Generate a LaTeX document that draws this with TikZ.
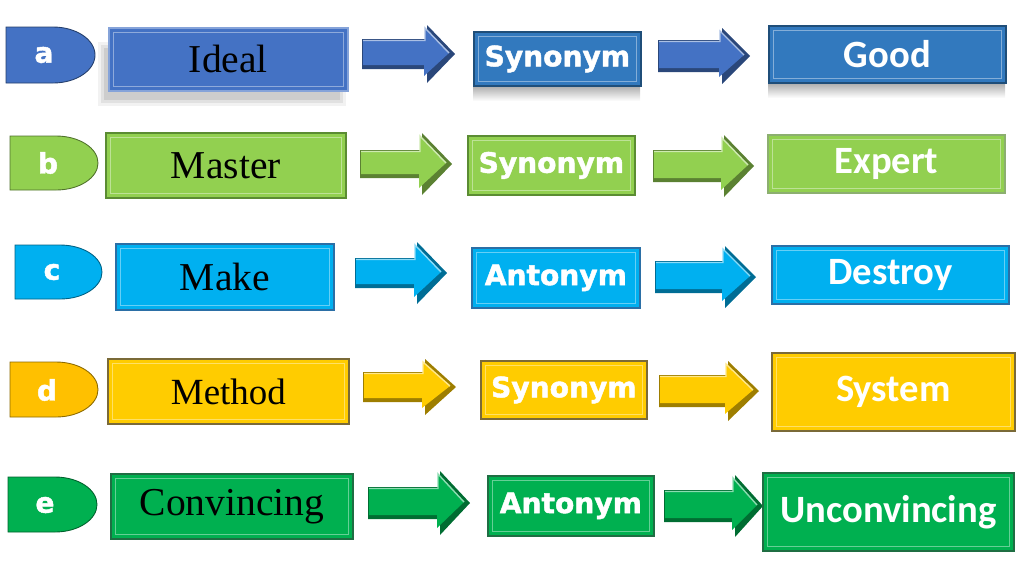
\documentclass[tikz,border=0pt]{standalone}
\usepackage{fontspec}
\setmainfont{Liberation Serif}
\newfontfamily\heavysans{DejaVu Sans}[BoldFeatures={FakeBold=1.6}]
\newfontfamily\calibrifont{Carlito}

% bevelled block arrow: colour, start, head start, tip, centre, shaft half, head half
\newcommand{\wordarrow}[7]{%
  \fill[#1!62!black] (#2,{#5-#6}) -- (#3,{#5-#6}) -- (#3,{#5-#7}) -- (#4,#5)
    -- (#3,{#5+#7}) -- (#3,{#5+#6}) -- (#2,{#5+#6}) -- cycle;
  \fill[#1] (#2+1,{#5-#6+1}) -- (#3-2,{#5-#6+1}) -- (#3-2,{#5-#7+3}) -- (#4-6,{#5-1})
    -- (#3-3,{#5+#7-7}) -- (#3-3,{#5+#6-4}) -- (#2+1,{#5+#6-4}) -- cycle;
  \draw[#1!45!white, line width=0.8pt] (#2+1,{#5-#6+1.5}) -- (#3-2,{#5-#6+1.5})
    -- (#3-2,{#5-#7+3}) -- (#4-6,{#5-1});
}

\tikzset{
  tabshape/.style={fill=#1, draw=#1!55!black, line width=0.5pt},
  tabletter/.style={text=white, font=\heavysans\bfseries\fontsize{16}{16}\selectfont},
  wordbox/.style 2 args={fill=#1, draw=#2, line width=1pt, anchor=north west, inner sep=0pt,
    path picture={\draw[white, opacity=.4, line width=.8pt]
      ([shift={(2.5pt,-2.5pt)}]path picture bounding box.north west) rectangle
      ([shift={(-2.5pt,2.5pt)}]path picture bounding box.south east);}},
  boxsize/.style 2 args={minimum width=#1*0.02cm, minimum height=#2*0.02cm},
  serifword/.style={text=black, font=\fontsize{22.5}{22.5}\selectfont},
  kindword/.style={text=white, font=\heavysans\bfseries\fontsize{16}{16}\selectfont},
  resultword/.style={text=white, font=\calibrifont\bfseries\fontsize{22}{22}\selectfont},
}

\begin{document}
\begin{tikzpicture}[x=0.02cm, y=-0.02cm]

  % Colours
  \definecolor{ablue}{HTML}{4472C4}
  \definecolor{asteel}{HTML}{3279BE}
  \definecolor{asteeledge}{HTML}{1F4E79}
  \definecolor{bgreen}{HTML}{92D050}
  \definecolor{bgreenedge}{HTML}{5B8C33}
  \definecolor{ccyan}{HTML}{00B0F0}
  \definecolor{ccyanedge}{HTML}{2B6FA6}
  \definecolor{dgold}{HTML}{FFC000}
  \definecolor{dyellow}{HTML}{FFCC00}
  \definecolor{dgoldedge}{HTML}{7A6A38}
  \definecolor{egreen}{HTML}{00B050}
  \definecolor{egreenedge}{HTML}{1F6E43}

  \useasboundingbox (0,0) rectangle (1024,576);

  % 1. Row a: Ideal -> Synonym -> Good
  \draw[tabshape=ablue] (6,27) -- (53,27) arc[start angle=-90, end angle=90, x radius=42, y radius=28] -- (6,83) -- cycle;
  \node[tabletter] (taba) at (44,55) {a};
  \foreach \s/\o in {0/.05, 3/.07, 6/.09}
    \fill[black, opacity=\o] ({98+\s},{42+\s}) rectangle ({346-\s},{106-\s});
  \node[wordbox={ablue}{ablue!65!white}, boxsize={239}{63}, serifword] (ideal) at (108,27) {Ideal};
  \wordarrow{ablue}{362}{427}{455}{54}{15}{29}
  \shade[top color=black!30, bottom color=white] (473,87) rectangle (640,101);
  \node[wordbox={asteel}{asteeledge}, boxsize={167}{54}, kindword] (syna) at (473,31) {Synonym};
  \wordarrow{ablue}{658}{722}{750}{56}{16}{28}
  \shade[top color=black!30, bottom color=white] (768,84) rectangle (1005,98);
  \node[wordbox={asteel}{asteeledge}, boxsize={237}{57}, resultword] (good) at (768,25) {Good};

  % 2. Row b: Master -> Synonym -> Expert
  \draw[tabshape=bgreen] (10,136) -- (56,136) arc[start angle=-90, end angle=90, x radius=42, y radius=27] -- (10,190) -- cycle;
  \node[tabletter] (tabb) at (48,163) {b};
  \node[wordbox={bgreen}{bgreenedge}, boxsize={240}{65}, serifword] (master) at (105,132) {Master};
  \wordarrow{bgreen}{360}{422}{452}{164}{14}{31}
  \node[wordbox={bgreen}{bgreenedge}, boxsize={167}{59}, kindword] (synb) at (467,135) {Synonym};
  \wordarrow{bgreen}{653}{724}{754}{166}{16}{31}
  \node[wordbox={bgreen}{bgreenedge!70!white}, boxsize={237}{58}, resultword] (expert) at (767,134) {Expert};

  % 3. Row c: Make -> Antonym -> Destroy
  \draw[tabshape=ccyan] (15,245) -- (60,245) arc[start angle=-90, end angle=90, x radius=42, y radius=27] -- (15,299) -- cycle;
  \node[tabletter] (tabc) at (52,272) {c};
  \node[wordbox={ccyan}{ccyanedge}, boxsize={218}{66}, serifword] (make) at (115,243) {Make};
  \wordarrow{ccyan}{355}{417}{447}{273}{15}{31}
  \node[wordbox={ccyan}{ccyanedge}, boxsize={168}{60}, kindword] (antc) at (471,247) {Antonym};
  \wordarrow{ccyan}{655}{725}{756}{277}{16}{31}
  \node[wordbox={ccyan}{ccyanedge}, boxsize={237}{58}, resultword] (destroy) at (771,245) {Destroy};

  % 4. Row d: Method -> Synonym -> System
  \draw[tabshape=dgold] (10,362) -- (56,362) arc[start angle=-90, end angle=90, x radius=42, y radius=27.5] -- (10,417) -- cycle;
  \node[tabletter] (tabd) at (47,390) {d};
  \node[wordbox={dyellow}{dgoldedge}, boxsize={241}{65}, serifword, font=\fontsize{21}{21}\selectfont] (method) at (107,358) {Method};
  \wordarrow{dyellow}{363}{425}{456}{387}{15}{28}
  \node[wordbox={dyellow}{dgoldedge}, boxsize={166}{58}, kindword] (synd) at (480,360) {Synonym};
  \wordarrow{dyellow}{659}{728}{759}{391}{16}{30}
  \node[wordbox={dyellow}{dgoldedge}, boxsize={243}{78}, resultword] (system) at (771,352) {System};

  % 5. Row e: Convincing -> Antonym -> Unconvincing
  \draw[tabshape=egreen] (8,477) -- (55,477) arc[start angle=-90, end angle=90, x radius=42, y radius=27.5] -- (8,532) -- cycle;
  \node[tabletter] (tabe) at (45,505) {e};
  \node[wordbox={egreen}{egreenedge}, boxsize={242}{65}, serifword] (convincing) at (110,473) {Convincing};
  \wordarrow{egreen}{368}{440}{470}{503}{16}{32}
  \node[wordbox={egreen}{egreenedge}, boxsize={166}{60}, kindword] (ante) at (487,475) {Antonym};
  \wordarrow{egreen}{664}{735}{763}{506}{16}{31}
  \node[wordbox={egreen}{egreenedge}, boxsize={251}{78}, resultword] (unconvincing) at (762,472) {Unconvincing};

\end{tikzpicture}
\end{document}
